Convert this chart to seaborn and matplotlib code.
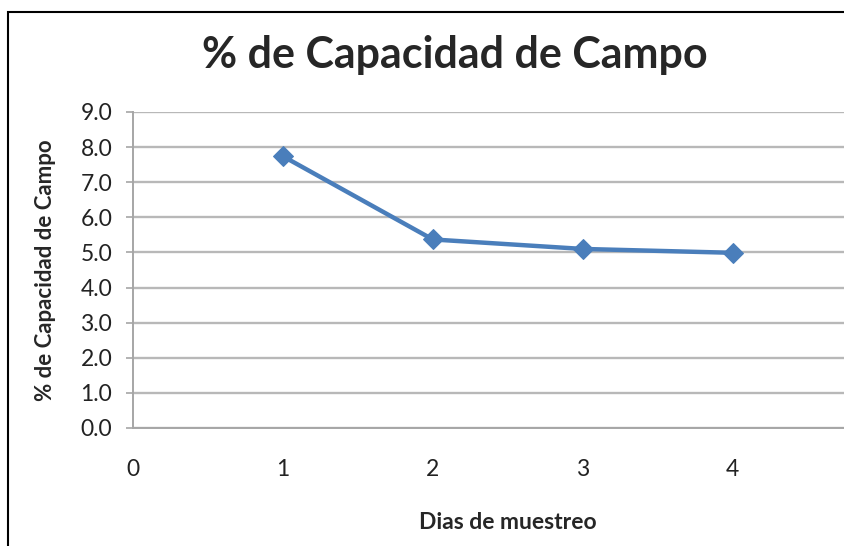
"""Line chart: % de Capacidad de Campo por día de muestreo."""
import matplotlib
matplotlib.use("Agg")
import matplotlib.pyplot as plt
import pandas as pd
import seaborn as sns
from matplotlib.patches import Rectangle

dias = [1, 2, 3, 4]
capacidad = [7.74, 5.37, 5.10, 4.99]
y_ticks = [0, 1, 2, 3, 4, 5, 6, 7, 8, 9]
x_ticks = [0, 1, 2, 3, 4]

df = pd.DataFrame({"dia": dias, "capacidad": capacidad})

sns.set_style("white")
plt.rcParams["font.family"] = ["Lato", "DejaVu Sans"]

fig = plt.figure(figsize=(8.45, 5.46), dpi=100)
ax = fig.add_axes([133 / 845, 1 - 428 / 546, 1 - 133 / 845, (428 - 112) / 546])

sns.lineplot(
    data=df, x="dia", y="capacidad", ax=ax,
    color="#4A7EBB", linewidth=3.2, marker="D", markersize=10,
    markeredgecolor="#4A7EBB",
)

ax.set_xlim(0, 4.75)
ax.set_ylim(0, 9)
ax.set_yticks(y_ticks)
ax.set_yticklabels([f"{v:.1f}" for v in y_ticks], fontsize=16.5, color="#222222")
ax.set_xticks(x_ticks)
ax.set_xticklabels([str(v) for v in x_ticks], fontsize=16.5, color="#222222")
ax.yaxis.grid(True, color="#B8B8B8", linewidth=1.7)
ax.set_axisbelow(True)
ax.tick_params(axis="y", length=5, width=1.2, color="#A6A6A6", pad=10, left=True)
ax.tick_params(axis="x", length=0, pad=22)

for side in ["top", "right"]:
    ax.spines[side].set_visible(False)
for side in ["left", "bottom"]:
    ax.spines[side].set_color("#A6A6A6")
    ax.spines[side].set_linewidth(1.4)

ax.set_xlabel("Dias de muestreo", fontsize=16.5, fontweight="bold")
ax.set_ylabel("% de Capacidad de Campo", fontsize=16, fontweight="bold")
ax.xaxis.set_label_coords((508 - 133) / (845 - 133), -(512 - 428) / (428 - 112))
ax.yaxis.set_label_coords(-(133 - 56) / (845 - 133), 0.5)

fig.text(455 / 845, 1 - 55 / 546, "% de Capacidad de Campo", fontsize=31,
         fontweight="bold", ha="center", va="center")

# chart frame (cut off at right and bottom in the original)
fig.patches.append(Rectangle((8 / 845, -0.1), 1.2, (546 - 12) / 546 + 0.1,
                             transform=fig.transFigure, fill=False,
                             edgecolor="black", linewidth=1.5))

fig.savefig("out.png", dpi=100)
plt.close(fig)
